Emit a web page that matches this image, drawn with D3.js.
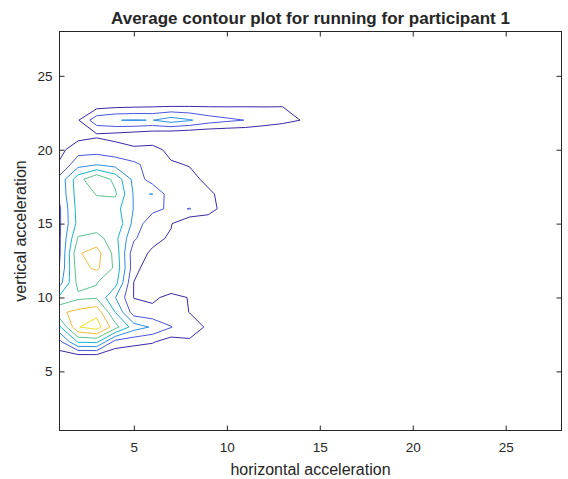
<!DOCTYPE html>
<html>
<head>
<meta charset="utf-8">
<script src="https://cdn.jsdelivr.net/npm/d3@7"></script>
<style>
body { margin: 0; background: #fff; }
text { font-family: "Liberation Sans", Arial, sans-serif; fill: #262626; }
</style>
</head>
<body>
<div id="chart"></div>
<script>
var width = 568, height = 479;

var titleText = "Average contour plot for running for participant 1";
var xLabel = "horizontal acceleration";
var yLabel = "vertical acceleration";

var xTicks = [5, 10, 15, 20, 25];
var yTicks = [5, 10, 15, 20, 25];
var gridSize = 28;

var levels = [1, 2, 3, 4, 5, 6, 7];
var levelColors = ["#3e26a8", "#4a55dc", "#2c90e8", "#17b5cc", "#5cc38c", "#f0bd40", "#f0e22a"];

// z values for x = 1..15, rows from y = 23 down to y = 5 (zero everywhere else)
var zRowTop = 23;
var zRows = [
  [0.1, 0.3, 0.51, 0.65, 0.72, 0.78, 0.82, 0.84, 0.85, 0.87, 0.9, 0.93, 0.97, 0.6, 0.1],
  [0.3, 0.93, 2.64, 2.97, 3.06, 2.97, 3.5, 3.1, 2.5, 2.2, 1.98, 1.6, 1.3, 0.98, 0.3],
  [0.7, 0.6, 0.86, 0.7, 0.5, 0.3, 0.1, 0, 0, 0, 0, 0, 0, 0, 0],
  [0.7, 1.6, 1.57, 1.35, 1.15, 1.3, 0.75, 0.3, 0, 0, 0, 0, 0, 0, 0],
  [1.13, 2.6, 2.95, 2.65, 2.21, 1.6, 1.1, 0.95, 0.4, 0, 0, 0, 0, 0, 0],
  [2.3, 4.6, 5.9, 4.7, 2.7, 1.5, 1.4, 1.25, 0.8, 0.3, 0, 0, 0, 0, 0],
  [2.2, 4.5, 5.05, 5.15, 2.9, 3.02, 1.4, 1.3, 1.15, 0.7, 0.2, 0, 0, 0, 0],
  [1.85, 4.4, 4.6, 4.4, 2.95, 2.3, 1.8, 2.03, 1.5, 0.46, 0, 0, 0, 0, 0],
  [1.85, 4.3, 4.3, 4.89, 2.67, 1.3, 1.05, 0.16, 0.25, 0, 0, 0, 0, 0, 0],
  [1.85, 5.1, 5.45, 4.3, 2.15, 1.2, 0.9, 0.3, 0.1, 0, 0, 0, 0, 0, 0],
  [1.85, 5.9, 6.4, 4.65, 1.35, 0.88, 0.5, 0.1, 0, 0, 0, 0, 0, 0, 0],
  [2.05, 5.6, 6.2, 4.8, 1.4, 0.26, 0, 0, 0, 0, 0, 0, 0, 0, 0],
  [2.6, 5.3, 5.02, 4.4, 0.97, 0.3, 0.2, 0, 0, 0, 0, 0, 0, 0, 0],
  [4.2, 4.8, 4.9, 3.03, 0.97, 0.8, 1.3, 0.95, 0.3, 0, 0, 0, 0, 0, 0],
  [5.8, 6.3, 6.7, 4.0, 1.5, 1.3, 1.2, 0.99, 0.5, 0, 0, 0, 0, 0, 0],
  [3.8, 6.95, 7.5, 5.4, 3.5, 2.875, 2.05, 1.22, 0.93, 0.3, 0, 0, 0, 0, 0],
  [1.7, 4.1, 4.2, 1.6, 1.3, 1.1, 0.5, 0.935, 0.3, 0, 0, 0, 0, 0, 0],
  [0.5, 0.5, 0.5, 0.27, 0.2, 0.1, 0, 0, 0, 0, 0, 0, 0, 0, 0],
  [0, 0, 0, 0, 0, 0, 0, 0, 0, 0, 0, 0, 0, 0, 0]
];

// full 28 x 28 grid, index = (y-1)*28 + (x-1)
var values = new Array(gridSize * gridSize).fill(0);
zRows.forEach(function (row, r) {
  var j = zRowTop - r - 1;
  row.forEach(function (v, i) {
    values[j * gridSize + i] = v;
  });
});

var x = d3.scaleLinear().domain([1, 28]).range([59.5, 561.5]);
var y = d3.scaleLinear().domain([1, 28]).range([430.5, 31.5]);

var svg = d3.select("#chart").append("svg")
  .attr("width", width)
  .attr("height", height)
  .style("display", "block");

svg.append("rect")
  .attr("width", width)
  .attr("height", height)
  .attr("fill", "#fff");

svg.append("clipPath").attr("id", "plotclip")
  .append("rect")
  .attr("x", x(1)).attr("y", y(28))
  .attr("width", x(28) - x(1)).attr("height", y(1) - y(28));

// grid sample i sits at contour coordinate i + 0.5, i.e. data value i + 1
var proj = d3.geoTransform({
  point: function (px, py) {
    this.stream.point(x(px + 0.5), y(py + 0.5));
  }
});
var path = d3.geoPath(proj);

var contours = d3.contours()
  .size([gridSize, gridSize])
  .thresholds(levels)(values);

svg.append("g")
  .attr("clip-path", "url(#plotclip)")
  .selectAll("path")
  .data(contours)
  .enter()
  .append("path")
  .attr("d", path)
  .attr("fill", "none")
  .attr("stroke", function (d, i) { return levelColors[i]; })
  .attr("stroke-width", 1)
  .attr("stroke-linejoin", "round");

// axes, ticks pointing inward
var axisColor = "#262626";

var axisBottomG = svg.append("g")
  .attr("transform", "translate(0," + y(1) + ")")
  .call(d3.axisBottom(x).tickValues(xTicks).tickSize(-5).tickPadding(12));
var axisTopG = svg.append("g")
  .attr("transform", "translate(0," + y(28) + ")")
  .call(d3.axisTop(x).tickValues(xTicks).tickSize(-5).tickFormat(""));
var axisLeftG = svg.append("g")
  .attr("transform", "translate(" + x(1) + ",0)")
  .call(d3.axisLeft(y).tickValues(yTicks).tickSize(-5).tickPadding(7));
var axisRightG = svg.append("g")
  .attr("transform", "translate(" + x(28) + ",0)")
  .call(d3.axisRight(y).tickValues(yTicks).tickSize(-5).tickFormat(""));

[axisBottomG, axisTopG, axisLeftG, axisRightG].forEach(function (g) {
  g.select(".domain").remove();
  g.selectAll("line").attr("stroke", axisColor);
  g.selectAll("text")
    .attr("fill", axisColor)
    .style("font-size", "13.5px")
    .style("font-family", "'Liberation Sans', Arial, sans-serif");
});

svg.append("rect")
  .attr("x", x(1)).attr("y", y(28))
  .attr("width", x(28) - x(1)).attr("height", y(1) - y(28))
  .attr("fill", "none")
  .attr("stroke", axisColor)
  .attr("stroke-width", 1);

svg.append("text")
  .attr("x", (x(1) + x(28)) / 2)
  .attr("y", 24)
  .attr("text-anchor", "middle")
  .style("font-size", "17px")
  .style("font-weight", "bold")
  .text(titleText);

svg.append("text")
  .attr("x", (x(1) + x(28)) / 2)
  .attr("y", 475)
  .attr("text-anchor", "middle")
  .style("font-size", "16px")
  .text(xLabel);

svg.append("text")
  .attr("transform", "translate(26," + (y(1) + y(28)) / 2 + ") rotate(-90)")
  .attr("text-anchor", "middle")
  .style("font-size", "16px")
  .text(yLabel);
</script>
</body>
</html>
